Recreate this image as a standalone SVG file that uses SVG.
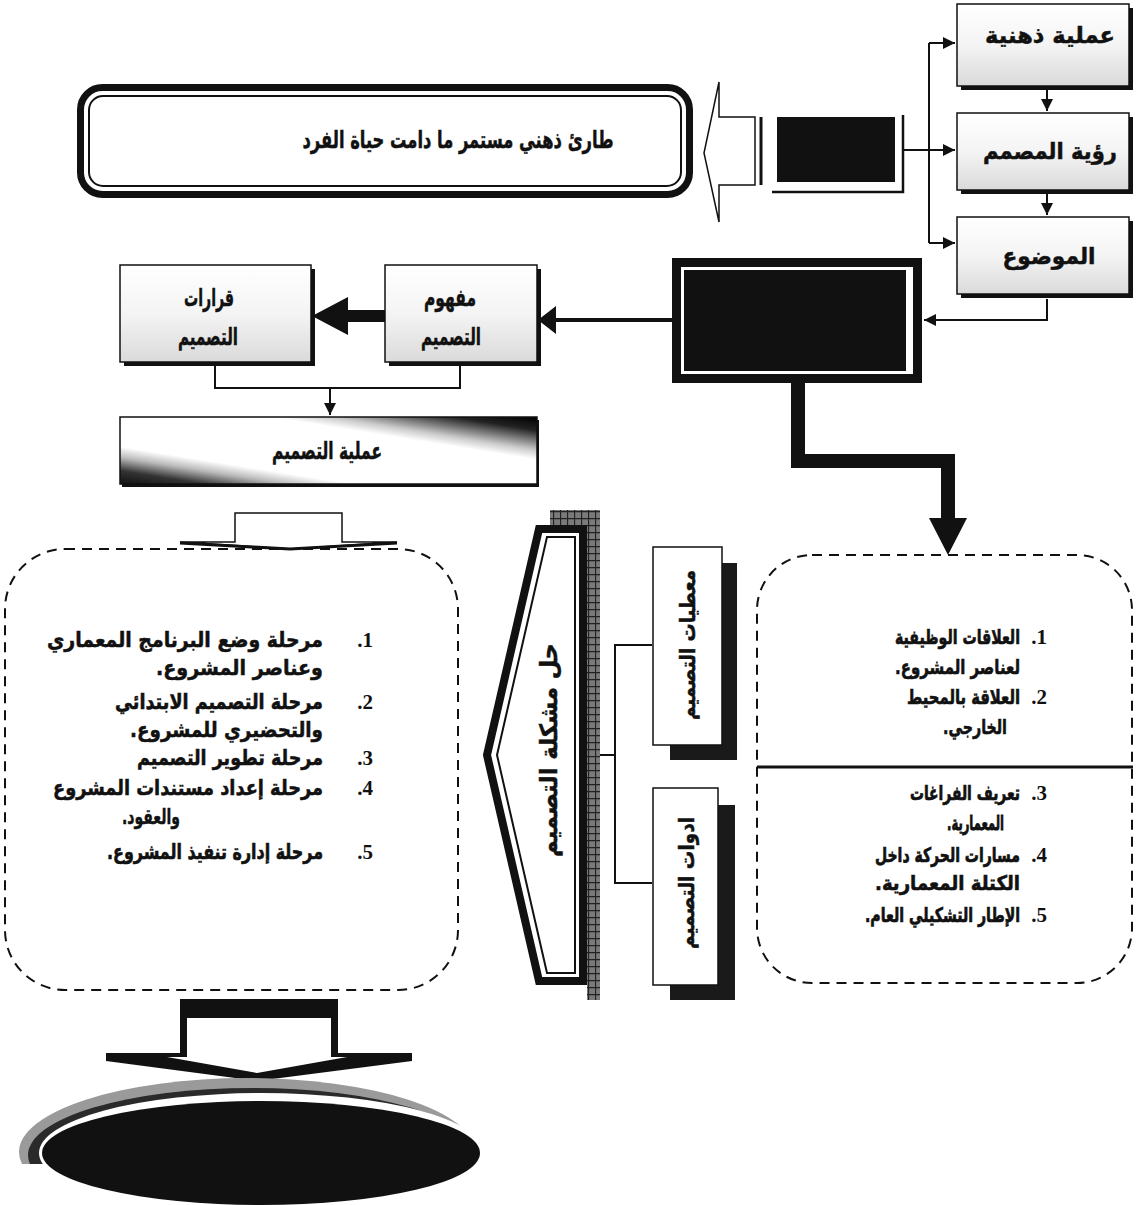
<svg xmlns="http://www.w3.org/2000/svg" width="1138" height="1205" viewBox="0 0 1138 1205">
<defs>
<style>
.ar{font-family:"DejaVu Sans",sans-serif;font-weight:bold;fill:#111;stroke:#111;stroke-width:0.5}
.rtl{text-anchor:end}
.mid{text-anchor:middle}
.num{font-family:"Liberation Serif",serif;font-weight:bold;font-size:21px;fill:#111;text-anchor:end}
.ln{fill:none;stroke:#111;stroke-width:2}
.box{fill:url(#stip);stroke:#111;stroke-width:1.5}
.shd{fill:#111}
.dash{fill:none;stroke:#111;stroke-width:2;stroke-dasharray:10 7}
.blk{fill:#111}
</style>
<linearGradient id="stip" x1="0" y1="0" x2="0" y2="1">
<stop offset="0" stop-color="#ffffff"/>
<stop offset="0.5" stop-color="#f4f4f4"/>
<stop offset="1" stop-color="#dadada"/>
</linearGradient>
<linearGradient id="diag" x1="1" y1="0" x2="0" y2="1">
<stop offset="0" stop-color="#000"/>
<stop offset="0.1" stop-color="#222"/>
<stop offset="0.25" stop-color="#ccc"/>
<stop offset="0.32" stop-color="#fff"/>
<stop offset="0.72" stop-color="#fff"/>
<stop offset="0.8" stop-color="#bbb"/>
<stop offset="0.9" stop-color="#333"/>
<stop offset="1" stop-color="#111"/>
</linearGradient>
<pattern id="hatch" patternUnits="userSpaceOnUse" width="7" height="7">
<rect width="7" height="7" fill="#7a7a7a"/>
<path d="M0 0.5H7M0.5 0V7" stroke="#222" stroke-width="1.3"/>
</pattern>
<marker id="arr" viewBox="0 0 10 10" refX="10" refY="5" markerWidth="14" markerHeight="12" markerUnits="userSpaceOnUse" orient="auto">
<path d="M0 0L10 5L0 10Z" fill="#111"/>
</marker>
<clipPath id="topcut"><rect x="0" y="1060" width="520" height="104"/></clipPath>
</defs>
<rect width="1138" height="1205" fill="#fff"/>

<g id="connectors">
<path class="ln" d="M929 43V243"/>
<path class="ln" d="M929 43H955" marker-end="url(#arr)"/>
<path class="ln" d="M903 150H955" marker-end="url(#arr)"/>
<path class="ln" d="M929 243H955" marker-end="url(#arr)"/>
<path class="ln" d="M1047 90V111" marker-end="url(#arr)"/>
<path class="ln" d="M1047 194V215" marker-end="url(#arr)"/>
<path class="ln" d="M1047 299V320H924" marker-end="url(#arr)"/>
<path d="M672 320H555" stroke="#111" stroke-width="4" fill="none"/>
<path d="M556 306L556 334L538 320Z" class="blk"/>
<path d="M385 316H346" stroke="#111" stroke-width="12" fill="none"/>
<path d="M348 297L348 335L312 316Z" class="blk"/>
<path class="ln" d="M215 366V388H460V366"/>
<path class="ln" d="M330 388V415" marker-end="url(#arr)"/>
<path d="M798 383V461H948V520" stroke="#111" stroke-width="14" fill="none" stroke-linejoin="miter"/>
<path d="M929 518H967L948 555Z" class="blk"/>
<path class="ln" d="M652 645H615V883H652M615 755H598"/>
<path d="M599 749L599 761L588 755Z" class="blk"/>
<path d="M180 542H235V513H342V542H397L290 549Z" fill="#fff" stroke="#111" stroke-width="1.5"/>
<path d="M180 543L290 549L397 543" fill="none" stroke="#111" stroke-width="3"/>
</g>

<g id="n-aml-dhihni">
<rect x="961" y="8" width="172" height="82" class="shd"/>
<rect x="957" y="4" width="172" height="82" class="box"/>
<text x="1050" y="43" class="ar mid" font-size="23" textLength="130" lengthAdjust="spacingAndGlyphs">عملية ذهنية</text>
</g>
<g id="n-ruya">
<rect x="961" y="117" width="172" height="77" class="shd"/>
<rect x="957" y="113" width="172" height="77" class="box"/>
<text x="1050" y="159" class="ar mid" font-size="23" textLength="134" lengthAdjust="spacingAndGlyphs">رؤية المصمم</text>
</g>
<g id="n-mawdu">
<rect x="961" y="221" width="172" height="77" class="shd"/>
<rect x="957" y="217" width="172" height="77" class="box"/>
<text x="1049" y="264" class="ar mid" font-size="23" textLength="93" lengthAdjust="spacingAndGlyphs">الموضوع</text>
</g>

<g id="n-smallblack">
<rect x="777" y="117" width="118" height="65" class="blk"/>
<path d="M772 192H903V115" fill="none" stroke="#111" stroke-width="2.5"/>
</g>

<g id="n-hollow-arrow">
<path d="M704 153L719 82V117H755V185H719V222Z" fill="#fff" stroke="#111" stroke-width="1.5"/>
<path d="M761 117V185" stroke="#111" stroke-width="3"/>
</g>

<g id="n-banner">
<rect x="80.5" y="87.5" width="609" height="107" rx="22" fill="#fff" stroke="#111" stroke-width="7"/>
<rect x="89" y="96" width="592" height="90" rx="14" fill="none" stroke="#111" stroke-width="2"/>
<text x="458" y="148" class="ar mid" font-size="24" textLength="311" lengthAdjust="spacingAndGlyphs">طارئ ذهني مستمر ما دامت حياة الفرد</text>
</g>

<g id="n-bigblack">
<rect x="676.5" y="262.5" width="241" height="116" fill="#fff" stroke="#111" stroke-width="9"/>
<rect x="684" y="270" width="222" height="101" class="blk"/>
</g>

<g id="n-qararat">
<rect x="124" y="269" width="191" height="97" class="shd"/>
<rect x="120" y="265" width="191" height="97" class="box"/>
<text x="209" y="306" class="ar mid" font-size="24" textLength="50" lengthAdjust="spacingAndGlyphs">قرارات</text>
<text x="208" y="345" class="ar mid" font-size="24" textLength="60" lengthAdjust="spacingAndGlyphs">التصميم</text>
</g>
<g id="n-mafhoum">
<rect x="389" y="269" width="152" height="97" class="shd"/>
<rect x="385" y="265" width="152" height="97" class="box"/>
<text x="450" y="306" class="ar mid" font-size="24" textLength="52" lengthAdjust="spacingAndGlyphs">مفهوم</text>
<text x="451" y="345" class="ar mid" font-size="24" textLength="60" lengthAdjust="spacingAndGlyphs">التصميم</text>
</g>

<g id="n-amaliya">
<rect x="122" y="420" width="417" height="67" class="shd"/>
<rect x="120" y="417" width="417" height="67" fill="url(#diag)" stroke="#111" stroke-width="1.5"/>
<text x="327" y="459" class="ar mid" font-size="24" textLength="110" lengthAdjust="spacingAndGlyphs">عملية التصميم</text>
</g>

<g id="n-left-list">
<rect x="5" y="549" width="453" height="441" rx="60" class="dash"/>
<text x="373" y="647" class="num">.1</text>
<text transform="translate(323,647) scale(1,1.05)" class="ar rtl" font-size="20" textLength="276" lengthAdjust="spacingAndGlyphs">مرحلة وضع البرنامج المعماري</text>
<text transform="translate(323,675)" class="ar rtl" font-size="21" textLength="167" lengthAdjust="spacingAndGlyphs">وعناصر المشروع.&#x200F;</text>
<text x="373" y="709" class="num">.2</text>
<text transform="translate(323,709) scale(1,1.17)" class="ar rtl" font-size="18" textLength="208" lengthAdjust="spacingAndGlyphs">مرحلة التصميم الابتدائي</text>
<text transform="translate(323,737)" class="ar rtl" font-size="21" textLength="193" lengthAdjust="spacingAndGlyphs">والتحضيري للمشروع.&#x200F;</text>
<text x="373" y="765" class="num">.3</text>
<text transform="translate(323,765) scale(1,1.08)" class="ar rtl" font-size="19.5" textLength="186" lengthAdjust="spacingAndGlyphs">مرحلة تطوير التصميم</text>
<text x="373" y="795" class="num">.4</text>
<text transform="translate(323,795) scale(1,1.05)" class="ar rtl" font-size="20" textLength="270" lengthAdjust="spacingAndGlyphs">مرحلة إعداد مستندات المشروع</text>
<text transform="translate(180,824)" class="ar rtl" font-size="21" textLength="58" lengthAdjust="spacingAndGlyphs">والعقود.&#x200F;</text>
<text x="373" y="859" class="num">.5</text>
<text transform="translate(323,859) scale(1,1.27)" class="ar rtl" font-size="16.5" textLength="216" lengthAdjust="spacingAndGlyphs">مرحلة إدارة تنفيذ المشروع.&#x200F;</text>
</g>

<g id="n-hall">
<rect x="550" y="510" width="50" height="15" fill="url(#hatch)"/>
<rect x="587" y="510" width="13" height="490" fill="url(#hatch)"/>
<path d="M539 529H583V981H539L487 755Z" fill="#fff" stroke="#111" stroke-width="8"/>
<path d="M547 537H575V973H547L497 755Z" fill="none" stroke="#111" stroke-width="2"/>
<text transform="translate(548,750) rotate(-90)" x="0" y="9" class="ar mid" font-size="24" textLength="214" lengthAdjust="spacingAndGlyphs">حل مشكلة التصميم</text>
</g>

<g id="n-muatayat">
<rect x="670" y="563" width="67" height="197" fill="#1a1a1a"/>
<rect x="653" y="547" width="69" height="198" fill="#fff" stroke="#111" stroke-width="1.5"/>
<text transform="translate(687,645) rotate(-90)" x="0" y="8" class="ar mid" font-size="21" textLength="150" lengthAdjust="spacingAndGlyphs">معطيات التصميم</text>
</g>
<g id="n-adawat">
<rect x="670" y="805" width="65" height="195" fill="#1a1a1a"/>
<rect x="653" y="788" width="65" height="197" fill="#fff" stroke="#111" stroke-width="1.5"/>
<text transform="translate(686,883) rotate(-90)" x="0" y="8" class="ar mid" font-size="21" textLength="132" lengthAdjust="spacingAndGlyphs">ادوات التصميم</text>
</g>

<g id="n-right-list">
<rect x="757" y="555" width="375" height="428" rx="55" class="dash"/>
<path d="M757 767H1133" stroke="#111" stroke-width="3"/>
<text x="1047" y="644" class="num">.1</text>
<text transform="translate(1020,644) scale(1,1.38)" class="ar rtl" font-size="14.5" textLength="125" lengthAdjust="spacingAndGlyphs">العلاقات الوظيفية</text>
<text transform="translate(1020,674) scale(1,1.21)" class="ar rtl" font-size="16.5" textLength="125" lengthAdjust="spacingAndGlyphs">لعناصر المشروع.&#x200F;</text>
<text x="1047" y="704" class="num">.2</text>
<text transform="translate(1020,704) scale(1,1.33)" class="ar rtl" font-size="15" textLength="113" lengthAdjust="spacingAndGlyphs">العلاقة بالمحيط</text>
<text transform="translate(1007,734) scale(1,1.25)" class="ar rtl" font-size="16" textLength="64" lengthAdjust="spacingAndGlyphs">الخارجي.&#x200F;</text>
<text x="1047" y="800" class="num">.3</text>
<text transform="translate(1020,800) scale(1,1.48)" class="ar rtl" font-size="13.5" textLength="110" lengthAdjust="spacingAndGlyphs">تعريف الفراغات</text>
<text transform="translate(1004,830) scale(1,1.6)" class="ar rtl" font-size="12.5" textLength="57" lengthAdjust="spacingAndGlyphs">المعمارية.&#x200F;</text>
<text x="1047" y="862" class="num">.4</text>
<text transform="translate(1020,862) scale(1,1.43)" class="ar rtl" font-size="14" textLength="145" lengthAdjust="spacingAndGlyphs">مسارات الحركة داخل</text>
<text transform="translate(1020,890) scale(1,1.18)" class="ar rtl" font-size="17" textLength="145" lengthAdjust="spacingAndGlyphs">الكتلة المعمارية.&#x200F;</text>
<text x="1047" y="922" class="num">.5</text>
<text transform="translate(1020,922) scale(1,1.43)" class="ar rtl" font-size="14" textLength="155" lengthAdjust="spacingAndGlyphs">الإطار التشكيلي العام.&#x200F;</text>
</g>

<g id="n-bottom-arrow">
<path d="M180 999H338V1053H412V1061L257 1081L106 1061V1053H180Z" class="blk"/>
<path d="M187 1018H331V1057H347L257 1073L167 1057H187Z" fill="#fff"/>
</g>

<g id="n-ellipse">
<g clip-path="url(#topcut)">
<ellipse cx="247" cy="1152" rx="228" ry="74" fill="#9a9a9a"/>
<ellipse cx="252" cy="1155" rx="224" ry="67" fill="#2a2a2a"/>
</g>
<ellipse cx="262" cy="1153" rx="223" ry="60" fill="#fff"/>
<ellipse cx="261" cy="1153" rx="219" ry="52" fill="#111"/>
</g>
</svg>
